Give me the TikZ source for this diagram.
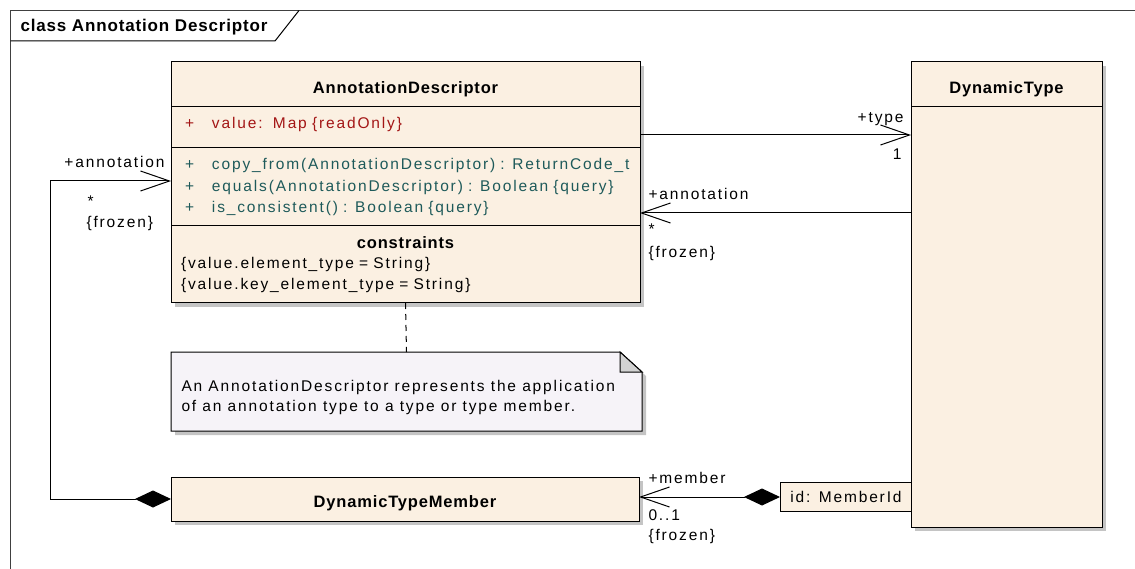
\documentclass[tikz,border=0pt]{standalone}
\usepackage{fontspec}
\setmainfont{Liberation Sans}[LetterSpace=12]
\newfontfamily\headfont{Liberation Sans}[LetterSpace=5]
\usetikzlibrary{positioning,calc,arrows.meta,shadows}
\definecolor{classfill}{HTML}{FBF0E2}
\definecolor{notefill}{HTML}{F6F3F8}
\definecolor{attrred}{HTML}{A31515}
\definecolor{opteal}{HTML}{1E5A5A}
\definecolor{shadowgray}{HTML}{C4C4C4}
\definecolor{foldgray}{HTML}{D2D2D2}
\newcommand{\namefont}{\headfont\bfseries\fontsize{16.5}{20}\selectfont}
\newcommand{\umlop}[1]{\mbox{\makebox[27pt][l]{+}#1}}

\begin{document}
\begin{tikzpicture}[x=1pt,y=-1pt,line width=1pt,
  every node/.style={font=\fontsize{15.5}{21.5}\selectfont},
  castshadow/.style={drop shadow={shadow xshift=4pt,shadow yshift=-4pt,fill=shadowgray,opacity=1}},
  classbox/.style={draw,fill=classfill,castshadow,inner sep=0pt,outer sep=0pt},
  classname/.style={classbox,font=\namefont,text height=19pt,text depth=0pt,minimum height=45pt},
  compart/.style={classbox,align=left,inner xsep=14pt},
  roletext/.style={inner sep=0pt},
  assoc/.style={-{Straight Barb[length=29pt,width=20pt]}},
  compo/.style={{Diamond[length=36pt,width=17pt]}-{Straight Barb[length=29pt,width=20pt]}}]
\useasboundingbox (0,0) rectangle (1135,569);
% frame
\draw[black!75] (10.5,569) -- (10.5,10.5) -- (1135,10.5);
\draw (10.5,41) -- (275,41) -- (299,10.5);
\node[anchor=base west,inner sep=0pt,font=\headfont\bfseries\fontsize{17}{20}\selectfont] (frametitle) at (20,31.5) {class Annotation Descriptor};
% AnnotationDescriptor
\node[classname,minimum width=469pt,anchor=north west] (adhead) at (171,62) {AnnotationDescriptor};
\node[compart,below=0pt of adhead,minimum height=41pt,text width=441pt,text=attrred,text height=12pt,text depth=9pt] (adattr) {\umlop{value:\ \ Map \{readOnly\}}};
\node[compart,below=0pt of adattr,minimum height=78pt,text width=441pt,text=opteal] (adops) {\umlop{copy\_from(AnnotationDescriptor) : ReturnCode\_t}\\
  \umlop{equals(AnnotationDescriptor) : Boolean \{query\}}\\
  \umlop{is\_consistent() : Boolean \{query\}}};
\node[compart,below=0pt of adops,minimum height=77pt,text width=449pt,inner xsep=10pt,font=\fontsize{15.5}{20.5}\selectfont] (adcons) {\hfill{\namefont constraints}\hfill\null\\
  \{value.element\_type = String\}\\
  \{value.key\_element\_type = String\}};
% DynamicType
\node[classname,minimum width=191pt,anchor=north west] (dthead) at (911,62) {DynamicType};
\node[classbox,below=0pt of dthead,minimum width=191pt,minimum height=420pt] (dtbody) {};
% DynamicTypeMember and qualifier
\node[classname,minimum width=468pt,minimum height=44pt,text height=16pt,anchor=north west] (dtm) at (171,477) {DynamicTypeMember};
\node[draw,fill=classfill,inner sep=0pt,minimum width=131pt,minimum height=29pt,text depth=0pt,anchor=north west] (qual) at (780,482) {id: MemberId};
% note
\node[minimum width=470pt,minimum height=78pt,inner sep=0pt,anchor=north west] (note) at (171,352) {};
\draw[fill=notefill,castshadow] (note.north west) -- ([xshift=-22pt]note.north east) -- ([yshift=-20pt]note.north east) -- (note.south east) -- (note.south west) -- cycle;
\draw[fill=foldgray] ([xshift=-22pt]note.north east) |- ([yshift=-20pt]note.north east) -- cycle;
\node[anchor=north west,inner sep=0pt,align=left,font=\fontsize{15.5}{20.5}\selectfont] (notetext) at ([xshift=10pt,yshift=-27.3pt]note.north west) {An AnnotationDescriptor represents the application\\of an annotation type to a type or type member.};
% connectors
\coordinate (typestart) at ([yshift=-7.5pt]adattr.east);
\draw[assoc] (typestart) -- (typestart -| dtbody.west);
\coordinate (annend) at ([yshift=-26pt]adops.east);
\draw[assoc] (annend -| dtbody.west) -- (annend);
\coordinate (leftrun) at (50.5,300);
\draw[compo] (dtm.west) -| (leftrun) |- ([yshift=6pt]adops.west);
\draw[compo] (qual.west) -- (qual.west -| dtm.east);
\draw[dash pattern=on 6pt off 5pt] (adcons.south) -- (note.north);
% roles
\node[roletext,anchor=base east] (typerole) at (904,123) {+type};
\node[roletext,anchor=base east] (typemult) at (902,159.5) {1};
\node[roletext,anchor=base west] (annrole) at (648,200) {+annotation};
\node[roletext,anchor=base west] (annmult) at (648,235) {*};
\node[roletext,anchor=base west] (annfrozen) at (648,257.8) {\{frozen\}};
\node[roletext,anchor=base east] (lannrole) at (165,167.3) {+annotation};
\node[roletext,anchor=base west] (lannmult) at (87,207) {*};
\node[roletext,anchor=base west] (lannfrozen) at (86,227.5) {\{frozen\}};
\node[roletext,anchor=base west] (memrole) at (648,483.3) {+member};
\node[roletext,anchor=base west] (memmult) at (648,520.7) {0..1};
\node[roletext,anchor=base west] (memfrozen) at (648,540.5) {\{frozen\}};
\end{tikzpicture}
\end{document}
